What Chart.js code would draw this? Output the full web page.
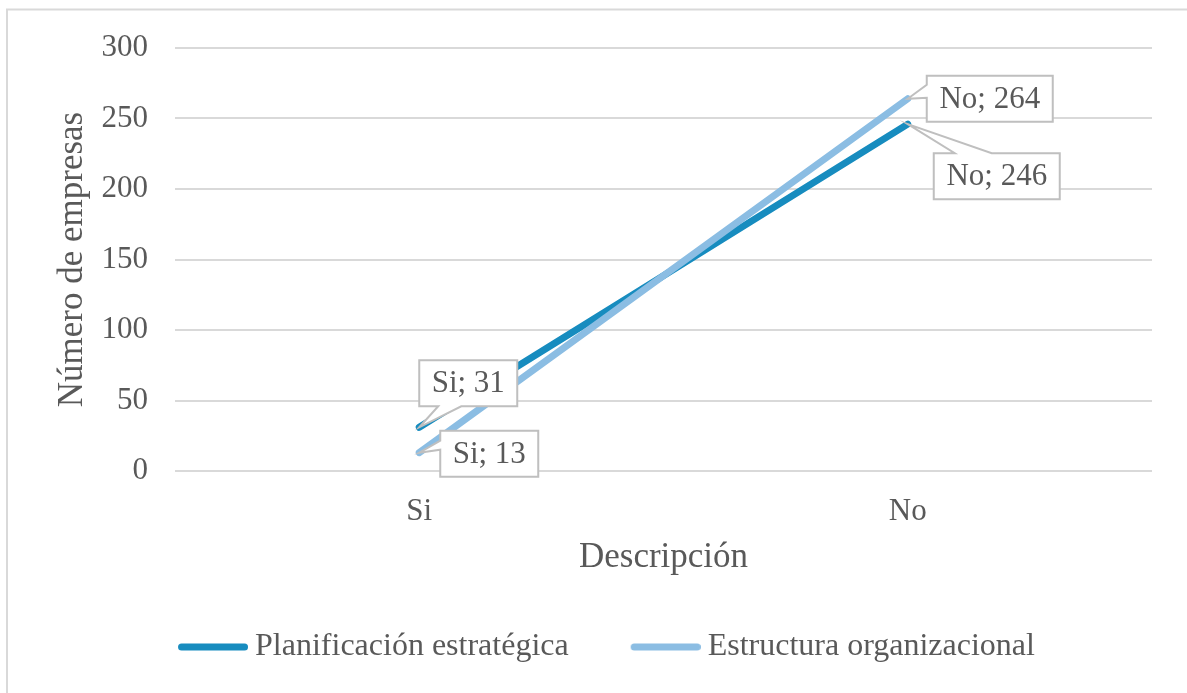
<!DOCTYPE html>
<html>
<head>
<meta charset="utf-8">
<script src="https://cdn.jsdelivr.net/npm/chart.js@4.4.1/dist/chart.umd.min.js"></script>
<style>
  html, body { margin: 0; padding: 0; background: #ffffff; }
  #wrap { width: 1187px; height: 693px; position: relative; }
</style>
</head>
<body>
<div id="wrap"><canvas id="chart" width="1187" height="693"></canvas></div>
<script>
// Respuestas por empresa
const categories = ['Si', 'No'];
const planificacion = [31, 246];
const estructura = [13, 264];
const seriesNames = ['Planificación estratégica', 'Estructura organizacional'];
const yTicks = [0, 50, 100, 150, 200, 250, 300];

const FONT = '"Liberation Serif", "Times New Roman", serif';
const TEXT = '#595959';
const DARK = '#178CBF';
const LIGHT = '#8BBDE3';

// Legend sample: a thick rounded stroke placed inside a wider transparent swatch
function legendSwatch(color) {
  const c = document.createElement('canvas');
  c.width = 121; c.height = 12;
  const g = c.getContext('2d');
  g.strokeStyle = color;
  g.lineWidth = 7;
  g.lineCap = 'round';
  g.beginPath();
  g.moveTo(54.5, 6);
  g.lineTo(117.5, 6);
  g.stroke();
  return c;
}

// Callout boxes: offset of the box from its point and the edge the pointer leaves from
const calloutStyle = {
  '0:0': { dx: 0,  dy: -67, side: 'bottom', a: 19, b: 42 },
  '1:0': { dx: 21, dy: -22, side: 'left',   a: 10, b: 19 },
  '1:1': { dx: 19, dy: -23, side: 'left',   a: 9,  b: 22 },
  '0:1': { dx: 26, dy: 29,  side: 'top',    a: 21, b: 58 }
};

function calloutPath(ctx, x, y, w, h, s, tx, ty) {
  ctx.beginPath();
  ctx.moveTo(x, y);
  if (s.side === 'top') { ctx.lineTo(x + s.a, y); ctx.lineTo(tx, ty); ctx.lineTo(x + s.b, y); }
  ctx.lineTo(x + w, y);
  ctx.lineTo(x + w, y + h);
  if (s.side === 'bottom') { ctx.lineTo(x + s.b, y + h); ctx.lineTo(tx, ty); ctx.lineTo(x + s.a, y + h); }
  ctx.lineTo(x, y + h);
  if (s.side === 'left') { ctx.lineTo(x, y + s.b); ctx.lineTo(tx, ty); ctx.lineTo(x, y + s.a); }
  ctx.closePath();
}

const calloutPlugin = {
  id: 'callouts',
  afterDatasetsDraw(chart) {
    const ctx = chart.ctx;
    ctx.save();
    ctx.font = '31px ' + FONT;
    chart.data.datasets.forEach((ds, di) => {
      const meta = chart.getDatasetMeta(di);
      meta.data.forEach((pt, i) => {
        const s = calloutStyle[di + ':' + i];
        if (!s) return;
        const label = chart.data.labels[i] + '; ' + ds.data[i];
        const w = Math.round(ctx.measureText(label).width + 25);
        const h = 46;
        const bx = pt.x + s.dx;
        const by = pt.y + s.dy;
        calloutPath(ctx, bx, by, w, h, s, pt.x, pt.y);
        ctx.fillStyle = '#ffffff';
        ctx.fill();
        ctx.lineWidth = 2;
        ctx.lineJoin = 'miter';
        ctx.strokeStyle = '#BFBFBF';
        ctx.stroke();
        ctx.fillStyle = TEXT;
        ctx.textAlign = 'center';
        ctx.textBaseline = 'middle';
        ctx.fillText(label, bx + w / 2, by + h / 2 + 1);
      });
    });
    ctx.restore();
  }
};

const framePlugin = {
  id: 'frame',
  beforeDraw(chart) {
    const ctx = chart.ctx;
    ctx.save();
    ctx.fillStyle = '#ffffff';
    ctx.fillRect(0, 0, chart.width, chart.height);
    ctx.strokeStyle = '#D9D9D9';
    ctx.lineWidth = 2;
    ctx.strokeRect(7, 9.5, 1400, 900);
    ctx.restore();
  }
};

new Chart(document.getElementById('chart'), {
  type: 'line',
  data: {
    labels: categories,
    datasets: [
      {
        label: seriesNames[0],
        data: planificacion,
        borderColor: DARK,
        backgroundColor: DARK,
        borderWidth: 7,
        borderCapStyle: 'round',
        borderJoinStyle: 'round',
        pointRadius: 0,
        pointHoverRadius: 0,
        pointStyle: legendSwatch(DARK),
        tension: 0,
        order: 1
      },
      {
        label: seriesNames[1],
        data: estructura,
        borderColor: LIGHT,
        backgroundColor: LIGHT,
        borderWidth: 7,
        borderCapStyle: 'round',
        borderJoinStyle: 'round',
        pointRadius: 0,
        pointHoverRadius: 0,
        pointStyle: legendSwatch(LIGHT),
        tension: 0,
        order: 0
      }
    ]
  },
  options: {
    responsive: false,
    animation: false,
    layout: { padding: { top: 48, right: 35, bottom: 20, left: 19 } },
    plugins: {
      tooltip: { enabled: false },
      legend: {
        position: 'bottom',
        labels: {
          usePointStyle: true,
          pointStyleWidth: 103,
          padding: 20,
          color: TEXT,
          font: { family: FONT, size: 32 },
          sort: (a, b) => a.datasetIndex - b.datasetIndex
        }
      }
    },
    scales: {
      x: {
        type: 'category',
        offset: true,
        grid: { display: false, drawTicks: false },
        border: { display: false },
        ticks: { color: TEXT, font: { family: FONT, size: 31 }, padding: 22 },
        title: {
          display: true,
          text: 'Descripción',
          color: TEXT,
          font: { family: FONT, size: 35 },
          padding: { top: 0, bottom: 32 }
        },
        afterFit(scale) { scale.height = 140; }
      },
      y: {
        min: 0,
        max: 300,
        afterBuildTicks(scale) { scale.ticks = yTicks.map(v => ({ value: v })); },
        grid: { color: '#D9D9D9', lineWidth: 2, drawTicks: false },
        border: { display: false },
        ticks: { color: TEXT, font: { family: FONT, size: 31 }, padding: 27 },
        title: {
          display: true,
          text: 'Número de empresas',
          color: TEXT,
          font: { family: FONT, size: 35 },
          padding: { top: 33, bottom: 0 }
        },
        afterFit(scale) { scale.width = 156; }
      }
    }
  },
  plugins: [framePlugin, calloutPlugin]
});
</script>
</body>
</html>
